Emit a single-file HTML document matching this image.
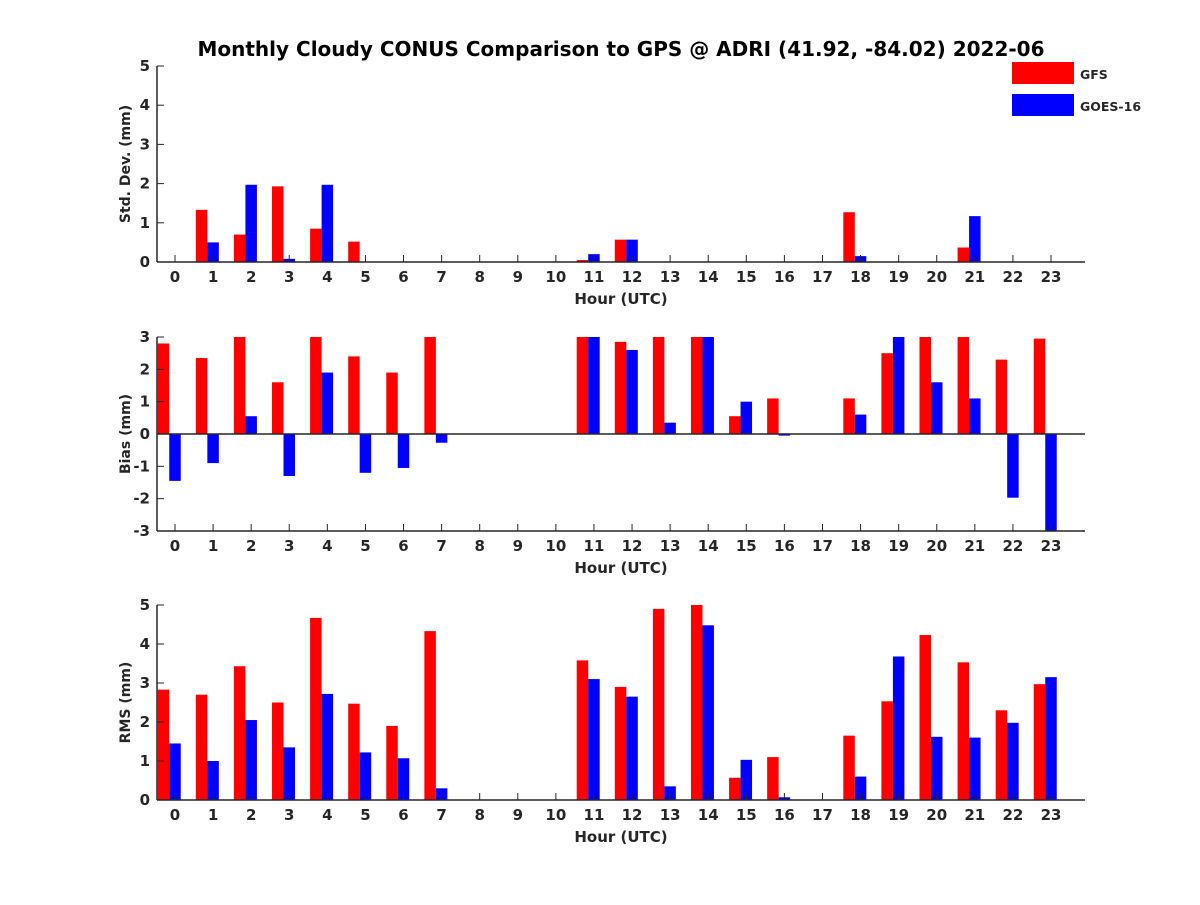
<!DOCTYPE html>
<html><head><meta charset="utf-8"><style>
body{margin:0;background:#fff}
svg text{font-family:"DejaVu Sans","Liberation Sans",sans-serif;font-weight:bold;fill:#262626}
</style></head><body>
<svg id="c" width="1200" height="900" viewBox="0 0 1200 900">
<text x="621" y="56" text-anchor="middle" font-size="20" style="fill:#000">Monthly Cloudy CONUS Comparison to GPS @ ADRI (41.92, -84.02) 2022-06</text>
<g>
<rect x="1012" y="62" width="62" height="22" fill="#ff0000"/>
<text x="1080" y="79" font-size="12.5">GFS</text>
<rect x="1012" y="94" width="62" height="22" fill="#0000ff"/>
<text x="1080" y="111" font-size="12.5">GOES-16</text>
</g>
</svg>
<script>
const hours=[0,1,2,3,4,5,6,7,8,9,10,11,12,13,14,15,16,17,18,19,20,21,22,23];
const stdGFS=[0,1.33,0.7,1.93,0.85,0.52,0,0,0,0,0,0.05,0.57,0,0,0,0,0,1.27,0,0,0.37,0,0];
const stdGOES=[0,0.5,1.97,0.08,1.97,0,0,0,0,0,0,0.2,0.57,0,0,0,0,0,0.15,0,0,1.17,0,0];
const biasGFS=[2.8,2.35,3,1.6,3,2.4,1.9,3,0,0,0,3,2.85,3,3,0.55,1.1,0,1.1,2.5,3,3,2.3,2.95];
const biasGOES=[-1.45,-0.9,0.55,-1.3,1.9,-1.2,-1.05,-0.27,0,0,0,3,2.6,0.35,3,1.0,-0.05,0,0.6,3,1.6,1.1,-1.97,-3];
const rmsGFS=[2.83,2.7,3.43,2.5,4.67,2.47,1.9,4.33,0,0,0,3.58,2.9,4.9,5.0,0.57,1.1,0,1.65,2.53,4.23,3.53,2.3,2.97];
const rmsGOES=[1.45,1.0,2.05,1.35,2.72,1.22,1.07,0.3,0,0,0,3.1,2.65,0.35,4.48,1.03,0.07,0,0.6,3.68,1.62,1.6,1.98,3.15];
const stdTicks=[0,1,2,3,4,5], biasTicks=[-3,-2,-1,0,1,2,3], rmsTicks=[0,1,2,3,4,5];
const NS='http://www.w3.org/2000/svg', svg=document.getElementById('c');
const X0=157,X1=1085, xs=h=>175+h*38.087;
function mk(t,a,p){const e=document.createElementNS(NS,t);for(const k in a)e.setAttribute(k,a[k]);(p||svg).appendChild(e);return e;}
function panel(name,top,bot,ymin,ymax,ticks,ylabel,a,b){
 const g=mk('g',{});
 
 
 const ys=v=>bot-(Math.max(ymin,Math.min(ymax,v))-ymin)/(ymax-ymin)*(bot-top);
 const bw=11.5;
 hours.forEach((h,i)=>{
  [[a[i],-bw,'#ff0000','gfs'],[b[i],0,'#0000ff','goes']].forEach(([v,off,col,nm])=>{
   if(v===0)return;
   const y0=ys(0),y1=ys(v);
   let x=xs(h)+off-bw/2, w=bw;
   if(x<X0){w-=X0-x;x=X0;}
   const r=mk('rect',{x:x,y:Math.min(y0,y1),width:w,height:Math.abs(y1-y0),fill:col},g);
   
   
  });
 });
 if(ymin<0){mk('line',{x1:X0,x2:X1,y1:ys(0),y2:ys(0),stroke:'#262626','stroke-width':1.5},g);}
 mk('line',{x1:X0,x2:X0,y1:top,y2:bot,stroke:'#262626','stroke-width':1.5},g);
 mk('line',{x1:X0,x2:X1,y1:bot,y2:bot,stroke:'#262626','stroke-width':1.5},g);
 ticks.forEach(t=>{
  mk('line',{x1:X0,x2:X0+7,y1:ys(t),y2:ys(t),stroke:'#262626','stroke-width':1},g);
  const tx=mk('text',{x:X0-7,y:ys(t)+5,'text-anchor':'end','font-size':15},g);tx.textContent=t;
  
  
 });
 hours.forEach(h=>{
  mk('line',{x1:xs(h),x2:xs(h),y1:bot,y2:bot-7,stroke:'#262626','stroke-width':1},g);
  const tx=mk('text',{x:xs(h),y:bot+20,'text-anchor':'middle','font-size':15},g);tx.textContent=h;
  
  
 });
 const xl=mk('text',{x:621,y:bot+42,'text-anchor':'middle','font-size':15},g);xl.textContent='Hour (UTC)';
 
 
 const cy=(top+bot)/2;
 const yl=mk('text',{x:0,y:0,'text-anchor':'middle','font-size':14,transform:`translate(130,${cy}) rotate(-90)`},g);yl.textContent=ylabel;
 
 
}
panel('std',66,262,0,5,stdTicks,'Std. Dev. (mm)',stdGFS,stdGOES);
panel('bias',337,531,-3,3,biasTicks,'Bias (mm)',biasGFS,biasGOES);
panel('rms',605,800,0,5,rmsTicks,'RMS (mm)',rmsGFS,rmsGOES);
</script>
</body></html>
